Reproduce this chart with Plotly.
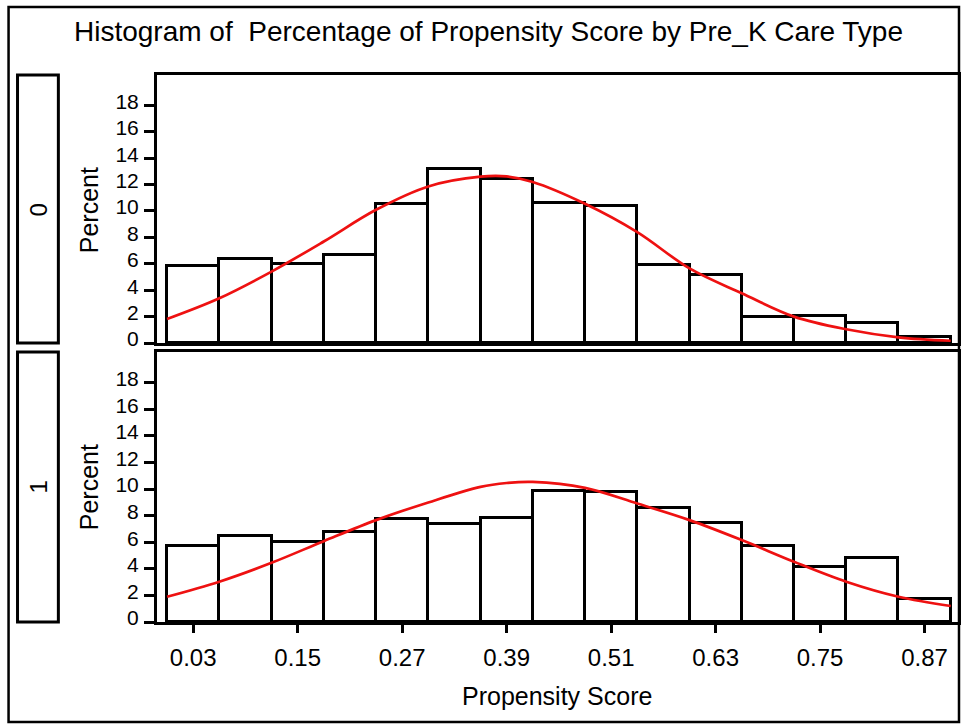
import plotly.graph_objects as go

# ---- data ----
bin_mid = [0.03, 0.09, 0.15, 0.21, 0.27, 0.33, 0.39, 0.45, 0.51, 0.57, 0.63, 0.69, 0.75, 0.81, 0.87]
pct_0 = [5.8, 6.4, 6.0, 6.7, 10.55, 13.2, 12.45, 10.6, 10.35, 5.9, 5.15, 1.95, 2.05, 1.5, 0.45]
pct_1 = [5.75, 6.5, 6.0, 6.8, 7.75, 7.35, 7.85, 9.85, 9.75, 8.6, 7.45, 5.7, 4.15, 4.8, 1.75]

curve_x = [0.0, 0.06, 0.12, 0.18, 0.24, 0.30, 0.36, 0.39, 0.42, 0.48, 0.54, 0.60, 0.66, 0.72, 0.78, 0.84, 0.90]
curve_0 = [1.82, 3.39, 5.41, 7.69, 10.09, 11.86, 12.6, 12.62, 12.2, 10.55, 8.4, 5.65, 3.77, 2.0, 1.04, 0.43, 0.17]
curve_1 = [1.9, 3.03, 4.45, 6.08, 7.66, 8.99, 10.16, 10.45, 10.53, 10.08, 8.91, 7.66, 6.16, 4.53, 3.03, 1.9, 1.2]

x_ticks = [0.03, 0.15, 0.27, 0.39, 0.51, 0.63, 0.75, 0.87]
x_tick_text = ["0.03", "0.15", "0.27", "0.39", "0.51", "0.63", "0.75", "0.87"]
y_ticks = [0, 2, 4, 6, 8, 10, 12, 14, 16, 18]
strip_labels = ["0", "1"]

title_text = "Histogram of  Percentage of Propensity Score by Pre_K Care Type"
x_title = "Propensity Score"
y_title = "Percent"

# ---- layout geometry (pixels) ----
W, H = 964, 724
L, R, T, B = 157, 3, 75, 102
pw, ph = W - L - R, H - T - B


def px_x(p):
    return (p - L) / pw


def px_y(p):
    return (H - B - p) / ph


top_dom = [px_y(343), 1.0]
bot_dom = [0.0, px_y(352)]

FONT = "Liberation Sans, Arial, sans-serif"

fig = go.Figure()

bar_style = dict(marker=dict(color="white", line=dict(color="black", width=3)),
                 width=0.06, showlegend=False, hoverinfo="skip")
line_style = dict(mode="lines", line=dict(color="#ee1111", width=2.7, shape="spline"),
                  showlegend=False, hoverinfo="skip")

fig.add_trace(go.Bar(x=bin_mid, y=pct_0, xaxis="x", yaxis="y", **bar_style))
fig.add_trace(go.Scatter(x=curve_x, y=curve_0, xaxis="x", yaxis="y", **line_style))
fig.add_trace(go.Bar(x=bin_mid, y=pct_1, xaxis="x2", yaxis="y2", **bar_style))
fig.add_trace(go.Scatter(x=curve_x, y=curve_1, xaxis="x2", yaxis="y2", **line_style))

xr = [(157 - 167.1) / 874, (961 - 167.1) / 874]
yr = [0, 20.3]

common_x = dict(range=xr, showgrid=False, zeroline=False, showline=True,
                linecolor="black", linewidth=3, mirror=True, fixedrange=True)
common_y = dict(range=yr, showgrid=False, zeroline=False, showline=True,
                linecolor="black", linewidth=3, mirror=True,
                tickmode="array", tickvals=y_ticks, ticks="outside",
                ticklen=10, tickwidth=2.5, tickcolor="black",
                tickfont=dict(family=FONT, size=21, color="black"),
                ticklabelshift=-4, ticklabelstandoff=1)

fig.update_layout(
    width=W, height=H,
    margin=dict(l=L, r=R, t=T, b=B),
    paper_bgcolor="white", plot_bgcolor="white",
    barmode="overlay", bargap=0,
    xaxis=dict(domain=[0, 1], anchor="y", showticklabels=False, ticks="", **common_x),
    yaxis=dict(domain=top_dom, anchor="x", **common_y),
    xaxis2=dict(domain=[0, 1], anchor="y2", tickmode="array", tickvals=x_ticks,
                ticktext=x_tick_text, ticks="outside", ticklen=8, tickwidth=3,
                tickcolor="black", tickfont=dict(family=FONT, size=24, color="black"),
                ticklabelstandoff=4, **common_x),
    yaxis2=dict(domain=bot_dom, anchor="x2", **common_y),
)

shapes = []
# outer frame
shapes.append(dict(type="rect", xref="paper", yref="paper",
                   x0=px_x(8), x1=px_x(962), y0=px_y(722), y1=px_y(7),
                   line=dict(color="black", width=2.5), fillcolor="rgba(0,0,0,0)"))
# strip boxes
for (y0p, y1p) in [(343, 75), (622, 352)]:
    shapes.append(dict(type="rect", xref="paper", yref="paper",
                       x0=px_x(17), x1=px_x(58), y0=px_y(y0p), y1=px_y(y1p),
                       line=dict(color="black", width=3), fillcolor="rgba(0,0,0,0)"))
fig.update_layout(shapes=shapes)

ann = []
ann.append(dict(text=title_text, xref="paper", yref="paper", x=px_x(489.5), y=px_y(31),
                showarrow=False, xanchor="center", yanchor="middle",
                font=dict(family=FONT, size=28, color="black")))
ann.append(dict(text=x_title, xref="paper", yref="paper", x=px_x(558), y=px_y(696),
                showarrow=False, xanchor="center", yanchor="middle",
                font=dict(family=FONT, size=25, color="black")))
for lab, yc in zip(strip_labels, [210, 487]):
    ann.append(dict(text=lab, xref="paper", yref="paper", x=px_x(38), y=px_y(yc),
                    showarrow=False, textangle=-90, xanchor="center", yanchor="middle",
                    font=dict(family=FONT, size=24, color="black")))
    ann.append(dict(text=y_title, xref="paper", yref="paper", x=px_x(89), y=px_y(yc),
                    showarrow=False, textangle=-90, xanchor="center", yanchor="middle",
                    font=dict(family=FONT, size=25, color="black")))
fig.update_layout(annotations=ann)

fig.write_html("out.html")
